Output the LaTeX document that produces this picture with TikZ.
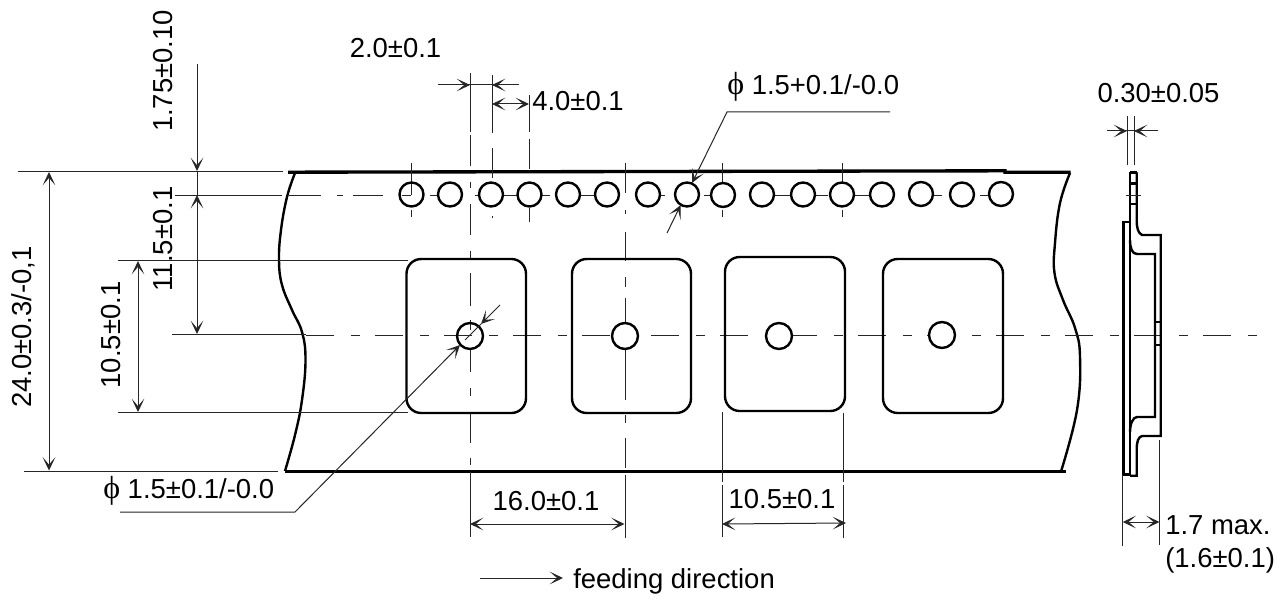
\documentclass[tikz,border=0pt]{standalone}
\usepackage{fontspec}
\setmainfont{Liberation Sans}
\newfontfamily\phifont{Liberation Serif}
\usetikzlibrary{arrows.meta}
\tikzset{
  dimtip/.tip={Stealth[length=10pt,width=9.5pt,inset=5.6pt]},
  tapeedge/.style={line width=2.5pt,black},
  outl/.style={line width=1.8pt,black},
  thinl/.style={line width=0.75pt,black!85},
  dimboth/.style={thinl,{dimtip}-{dimtip}},
  dimend/.style={thinl,-{dimtip}},
  lbl/.style={inner sep=0pt,anchor=base,font=\fontsize{20.6}{24}\selectfont},
  lblw/.style={lbl,anchor=base west},
  lblr/.style={lbl,rotate=90},
  centerdash/.style={thinl,dash pattern=on 21pt off 12.75pt on 6.75pt off 11.25pt}
}
\newcommand{\phisym}{{\fontsize{24}{24}\phifont ϕ}}
\begin{document}
\begin{tikzpicture}[x=0.75pt,y=-0.75pt]
\useasboundingbox (0,0) rectangle (1287,599);
\fill[white] (0,0) rectangle (1287,599);

% tape edges
\draw[tapeedge] (288,172.2)--(1005,170.8)--(1005,172.3)--(1070.5,172.3);
\draw[tapeedge] (285,471.5)--(1066,471.5);
\draw[outl] plot[smooth,tension=.7] coordinates {(295,173)(287,197)(281,230)(279,260)(282,285)(292,310)(302,332)(305.5,360)(302,400)(295,435)(285,471)};
\draw[outl] plot[smooth,tension=.7] coordinates {(1070,173)(1060,203)(1055,243)(1054.5,273)(1063,300)(1075,328)(1080,357)(1077,410)(1061,471.5)};

% centre lines
\draw[thinl] (172,334.5)--(306,334.5);
\draw[centerdash] (306,335)--(1258,335);
\draw[thinl] (175,195)--(282,195);
\foreach \a/\b in {289/321,337/343,353/383,402/411,430/438,475/479,503/517,542/550,580/595,660/665,704/712,775/790,815/828,853/870,933/942,980/988}
  \draw[thinl] (\a,195)--(\b,195);
\foreach \a/\b in {73/132,135/166,182/188,204/235,251/258,273/306,320/330,350/372,388/396,412/443,458/465,472/537}
  \draw[thinl] (470,\a)--(470,\b);
\foreach \a/\b in {163/193,210/214,232/261,277/287,298/323,350/400,415/423,438/468,475/538}
  \draw[thinl] (625.5,\a)--(625.5,\b);
\foreach \a/\b in {75/133,148/178,216/218}
  \draw[thinl] (492,\a)--(492,\b);
\foreach \a/\b in {95/132,139/169,208/222}
  \draw[thinl] (529,\a)--(529,\b);
\foreach \x in {411,722,842.5}{
  \draw[thinl] (\x,163)--(\x,183);
  \draw[thinl] (\x,210)--(\x,217);
}
\draw[thinl] (411,183)--(411,195);

% sprocket holes
\foreach \n/\x/\y in {1/411.5/194.5,2/450/194.5,3/491/194.5,4/529.5/194.5,5/568/194.5,6/607/194.5,7/648/194.5,8/687/194.5,9/723/195,10/762/194.5,11/803/194.5,12/842/194.5,13/882/194.5,14/921/194,15/962/194.5,16/1001/194}
  \node[draw,circle,outl,minimum size=18pt,inner sep=0pt] (sprocket\n) at (\x,\y) {};

% cavities
\draw[outl,rounded corners=11pt] (406.5,259) rectangle (526,413);
\draw[outl,rounded corners=11pt] (572,259) rectangle (691,413);
\draw[outl,rounded corners=11pt] (725,257) rectangle (845,411);
\draw[outl,rounded corners=11pt] (883,259) rectangle (1003,413);

% cavity holes
\node[draw,circle,outl,minimum size=19.5pt,inner sep=0pt] (cavhole1) at (470,336) {};
\foreach \n/\x/\y in {2/625/336,3/779/336,4/942/335}
  \node[draw,circle,outl,fill=white,minimum size=19.5pt,inner sep=0pt] (cavhole\n) at (\x,\y) {};

% extension lines
\draw[thinl] (18,171)--(283,171);
\draw[thinl] (118,260)--(408,260);
\draw[thinl] (118,412.5)--(408,412.5);
\draw[thinl] (24,471)--(278,471);
\draw[thinl] (722,412)--(722,482) (722,485)--(722,537);
\draw[thinl] (843,413)--(843,482) (843,485)--(843,538);
\draw[thinl] (1127.3,116)--(1127.3,165) (1134,116)--(1134,165);
\draw[thinl] (1122.7,474)--(1122.7,546) (1159.5,440)--(1159.5,545);

% dimensions
\draw[dimboth] (49,172)--(49,470.5);
\draw[dimboth] (138,261)--(138,412);
\draw[dimend] (197,64)--(197,171);
\draw[thinl] (197,171)--(197,195);
\draw[dimboth] (197,195)--(197,334);
\draw[thinl] (438,85)--(519,85);
\draw[dimend] (438,85)--(470,85);
\draw[dimend] (519,85)--(492,85);
\draw[dimboth] (492,104)--(529,104);
\draw[thinl] (1107,131)--(1158,131);
\draw[dimend] (1107,131)--(1127,131);
\draw[dimend] (1158,131)--(1134,131);
\draw[dimboth] (1122.7,522)--(1159.5,522);
\draw[dimboth] (470,524)--(624.5,524);
\draw[dimboth] (722,524)--(846,523);
\draw[dimend] (480,578)--(563,578);

% leaders
\draw[dimend] (890,112)--(727,112)--(692,183);
\draw[dimend] (667,233)--(680.7,205);
\draw[dimend] (120,512)--(295,512)--(460,345);
\draw[dimend] (500,305)--(481,324);
\draw[thinl] (481,324)--(465,340);

% side profile
\draw[outl] (1123.3,474.5)--(1123.3,222)--(1130,222);
\draw[outl] (1123.3,474.5)--(1130,474.5);
\draw[outl] (1130,172.3)--(1136.7,172.3);
\draw[outl] (1130,172.3)--(1130,474.5);
\draw[outl] (1136.7,172.3)--(1136.7,220) .. controls (1136.7,228) and (1138,233) .. (1142,235)--(1160.7,235)--(1160.7,436)--(1142,436) .. controls (1138,437) and (1136.7,442) .. (1136.7,450)--(1136.7,475.7)--(1130,475.7);
\draw[outl] (1130,240) .. controls (1130,248) and (1132,254) .. (1137,254)--(1155,254)--(1155,417)--(1137,417) .. controls (1133,417) and (1130,424) .. (1130,432);
\draw[outl] (1155,321.7)--(1160.7,321.7) (1155,345)--(1160.7,345);
\draw[outl] (1130,183.3)--(1136.7,183.3) (1130,204)--(1136.7,204);
\draw[thinl] (1126,195)--(1141,195);

% labels
\node[lblr] (l175) at (172,71) {1.75±0.10};
\node[lblr] (l115) at (172,239) {11.5±0.1};
\node[lblr] (l240) at (31.5,327) {24.0±0.3/-0,1};
\node[lblr] (l105v) at (120,335) {10.5±0.1};
\node[lbl] (l20) at (395.5,58) {2.0±0.1};
\node[lbl] (l40) at (578,111) {4.0±0.1};
\node[lblw] (lphi1) at (727,95) {\phisym{} 1.5+0.1/-0.0};
\node[lbl] (l030) at (1158.5,103) {0.30±0.05};
\node[lblw] (lphi2) at (103,498) {\phisym{} 1.5±0.1/-0.0};
\node[lbl] (l160) at (546,510) {16.0±0.1};
\node[lbl] (l105h) at (782,508) {10.5±0.1};
\node[lblw] (lmax) at (1165,534) {1.7 max.};
\node[lblw] (lnom) at (1165,567) {(1.6±0.1)};
\node[lblw] (lfeed) at (573,588) {feeding direction};
\end{tikzpicture}
\end{document}
